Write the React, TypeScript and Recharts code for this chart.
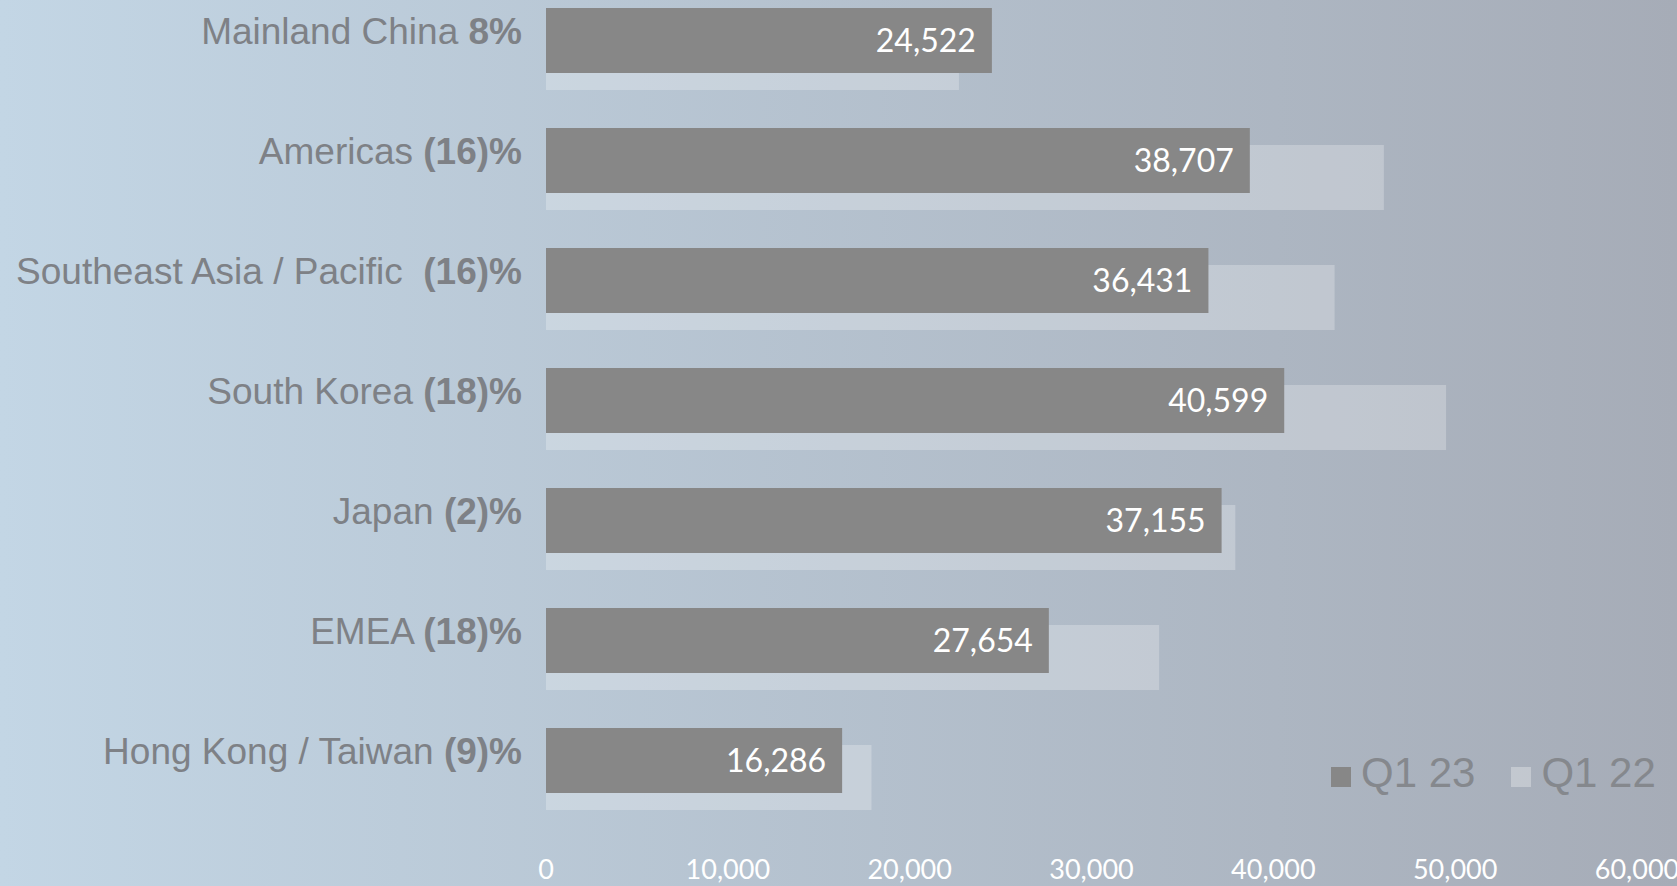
import React from 'react';
import { BarChart, Bar, XAxis, YAxis, Legend, LabelList } from 'recharts';

// regions and their year-over-year change (shown in bold)
const regions = ['Mainland China', 'Americas', 'Southeast Asia / Pacific ', 'South Korea', 'Japan', 'EMEA', 'Hong Kong / Taiwan'];
const changes = ['8%', '(16)%', '(16)%', '(18)%', '(2)%', '(18)%', '(9)%'];
const q123 = [24522, 38707, 36431, 40599, 37155, 27654, 16286];
const q122 = [22710, 46080, 43370, 49500, 37910, 33720, 17900];
const xTicks = [0, 10000, 20000, 30000, 40000, 50000, 60000];
const legendItems = [
  { name: 'Q1 23', color: '#878787' },
  { name: 'Q1 22', color: 'rgba(255,255,255,0.3)' },
];

const data = regions.map((region, i) => ({
  region,
  change: changes[i],
  q123: q123[i],
  q122: q122[i],
}));

const fmt = (v: number) => v.toLocaleString('en-US');

const RegionTick = (props: any) => {
  const { x, y, payload } = props;
  const row = data[payload.index] || data.find(d => d.region === payload.value);
  return (
    <text
      x={x}
      y={y + 4}
      textAnchor="end"
      fill="#7e8186"
      fontSize={37}
      fontFamily="'Liberation Sans', Arial, sans-serif"
      style={{ whiteSpace: 'pre' }}
    >
      <tspan>{row.region} </tspan>
      <tspan fontWeight="bold">{row.change}</tspan>
    </text>
  );
};

const LegendContent = () => (
  <div style={{ display: 'flex', alignItems: 'center', fontFamily: "'Liberation Sans', Arial, sans-serif", fontSize: 42, lineHeight: '42px', color: '#85888d' }}>
    {legendItems.map((item, i) => (
      <div key={item.name} style={{ display: 'flex', alignItems: 'center', marginLeft: i === 0 ? 0 : 36 }}>
        <span style={{ display: 'inline-block', width: 20, height: 20, background: item.color, marginTop: 8, marginRight: 10 }} />
        <span>{item.name}</span>
      </div>
    ))}
  </div>
);

export default function App() {
  return (
    <div
      style={{
        position: 'absolute',
        left: 0,
        top: 0,
        width: 1677,
        height: 886,
        overflow: 'hidden',
        background: 'linear-gradient(to right, #c3d6e5 0%, #a6acb7 100%)',
      }}
    >
      <div style={{ position: 'relative', top: -20 }}>
        <BarChart
          width={1677}
          height={906}
          data={data}
          layout="vertical"
          margin={{ top: 0, right: 40, bottom: 0, left: 0 }}
        >
          <XAxis
            type="number"
            domain={[0, 60000]}
            ticks={xTicks}
            tickFormatter={fmt}
            axisLine={false}
            tickLine={false}
            tickSize={0}
            tickMargin={23}
            height={49}
            interval={0}
            tick={{ fill: '#ffffff', fontSize: 27, fontFamily: 'Lato, sans-serif' }}
          />
          <YAxis
            yAxisId="cur"
            type="category"
            dataKey="region"
            width={546}
            axisLine={false}
            tickLine={false}
            tickSize={0}
            tickMargin={24}
            interval={0}
            padding={{ top: 0, bottom: 17 }}
            tick={<RegionTick />}
          />
          <YAxis
            yAxisId="prev"
            type="category"
            dataKey="region"
            hide
            padding={{ top: 17, bottom: 0 }}
          />
          <Legend
            layout="horizontal"
            verticalAlign="middle"
            align="center"
            wrapperStyle={{ left: 1331, top: 772, width: 'auto', height: 'auto' }}
            content={<LegendContent />}
          />
          <Bar
            yAxisId="prev"
            dataKey="q122"
            name="Q1 22"
            fill="#ffffff"
            fillOpacity={0.25}
            barSize={65}
            isAnimationActive={false}
          />
          <Bar
            yAxisId="cur"
            dataKey="q123"
            name="Q1 23"
            fill="#878787"
            barSize={65}
            isAnimationActive={false}
          >
            <LabelList
              dataKey="q123"
              position="insideRight"
              offset={16}
              formatter={(v: any) => fmt(Number(v))}
              fill="#ffffff"
              fontSize={32}
              fontFamily="Lato, sans-serif"
            />
          </Bar>
        </BarChart>
      </div>
    </div>
  );
}
